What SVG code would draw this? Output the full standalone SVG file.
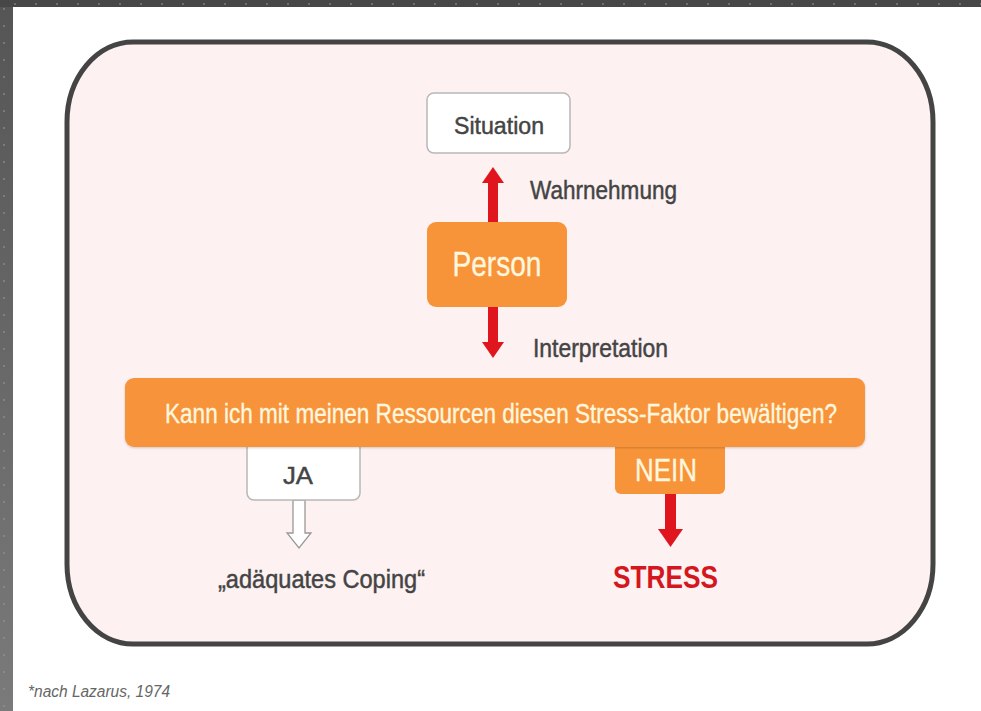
<svg xmlns="http://www.w3.org/2000/svg" width="981" height="711" viewBox="0 0 981 711">
  <defs>
    <linearGradient id="leftStrip" x1="0" y1="0" x2="0" y2="1">
      <stop offset="0" stop-color="#555"/>
      <stop offset="1" stop-color="#7a7a7a"/>
    </linearGradient>
    <pattern id="dotsV" x="0" y="0" width="13" height="17" patternUnits="userSpaceOnUse">
      <rect x="3" y="8" width="2" height="2" fill="#999" opacity="0.5"/>
    </pattern>
    <pattern id="dotsH" x="0" y="0" width="21" height="7" patternUnits="userSpaceOnUse">
      <rect x="14" y="3" width="2" height="2" fill="#888" opacity="0.6"/>
    </pattern>
    <filter id="soft" x="-5%" y="-10%" width="110%" height="130%">
      <feDropShadow dx="0" dy="1" stdDeviation="1.2" flood-color="#000" flood-opacity="0.18"/>
    </filter>
  </defs>
  <style>
    .lbl { font-family: "Liberation Sans", Arial, sans-serif; fill: #444; stroke: #444; stroke-width: 0.45; }
    .white-box { fill: #fff; stroke: #b8b8b8; stroke-width: 1.5; }
    .orange-box { fill: #f7943a; }
    .orange-text { font-family: "Liberation Sans", Arial, sans-serif; fill: #fff6de; stroke: #fff6de; stroke-width: 0.35; }
    .red { fill: #e0161e; }
  </style>

  <!-- background -->
  <rect x="0" y="0" width="981" height="711" fill="#fff"/>
  <rect x="0" y="0" width="13" height="711" fill="url(#leftStrip)"/>
  <rect x="0" y="0" width="13" height="711" fill="url(#dotsV)"/>
  <rect x="0" y="0" width="981" height="7" fill="#474747"/>
  <rect x="0" y="0" width="981" height="7" fill="url(#dotsH)"/>

  <!-- outer frame -->
  <g id="frame">
    <rect x="67" y="42" width="866" height="602" rx="66" ry="80" fill="#fdf1f1" stroke="#444" stroke-width="5"/>
  </g>

  <!-- connectors -->
  <g id="connectors">
    <!-- Person -> Situation (Wahrnehmung) -->
    <rect class="red" x="488" y="181" width="10" height="42"/>
    <path class="red" d="M482,183 L493,167 L504,183 Z"/>
    <!-- Person -> Question (Interpretation) -->
    <rect class="red" x="488" y="307" width="10" height="37"/>
    <path class="red" d="M482,342 L493,358 L504,342 Z"/>
    <!-- JA -> Coping (hollow arrow) -->
    <path d="M293,500 L305,500 L305,533 L311,533 L299,548 L287,533 L293,533 Z" fill="#fff" stroke="#999" stroke-width="1.3"/>
    <!-- NEIN -> STRESS -->
    <rect class="red" x="665" y="494" width="11" height="37"/>
    <path class="red" d="M658,529 L670.5,547 L683,529 Z"/>
  </g>

  <g id="situation">
    <rect class="white-box" x="427" y="93" width="143" height="60" rx="7"/>
    <text class="lbl" x="499" y="134" font-size="23" text-anchor="middle" textLength="90" lengthAdjust="spacingAndGlyphs">Situation</text>
  </g>

  <g id="label-wahrnehmung">
    <text class="lbl" x="530" y="199" font-size="25" textLength="147" lengthAdjust="spacingAndGlyphs">Wahrnehmung</text>
  </g>

  <g id="person">
    <rect class="orange-box" x="427" y="222" width="140" height="85" rx="9"/>
    <text class="orange-text" x="497" y="276" font-size="35" text-anchor="middle" textLength="89" lengthAdjust="spacingAndGlyphs">Person</text>
  </g>

  <g id="label-interpretation">
    <text class="lbl" x="533" y="357" font-size="25" textLength="135" lengthAdjust="spacingAndGlyphs">Interpretation</text>
  </g>

  <g id="ja">
    <rect class="white-box" x="247" y="430" width="113" height="70" rx="7"/>
    <text class="lbl" x="298" y="484" font-size="23" text-anchor="middle" textLength="30" lengthAdjust="spacingAndGlyphs">JA</text>
  </g>

  <g id="nein">
    <rect class="orange-box" x="615" y="430" width="110" height="64" rx="6"/>
    <text class="orange-text" x="666" y="481" font-size="31" text-anchor="middle" textLength="62" lengthAdjust="spacingAndGlyphs">NEIN</text>
  </g>

  <g id="question">
    <rect class="orange-box" x="125" y="378" width="740" height="69" rx="9" filter="url(#soft)"/>
    <text class="orange-text" x="165" y="423" font-size="27" textLength="672" lengthAdjust="spacingAndGlyphs">Kann ich mit meinen Ressourcen diesen Stress-Faktor bewältigen?</text>
  </g>

  <g id="coping">
    <text class="lbl" x="218" y="588" font-size="25" textLength="207" lengthAdjust="spacingAndGlyphs">„adäquates Coping“</text>
  </g>

  <g id="stress">
    <text x="613" y="588" font-family="'Liberation Sans', Arial, sans-serif" font-size="31" font-weight="bold" fill="#d4161f" textLength="105" lengthAdjust="spacingAndGlyphs">STRESS</text>
  </g>

  <g id="footnote">
    <text x="28" y="697" font-family="'Liberation Sans', Arial, sans-serif" font-size="16" font-style="italic" fill="#666" textLength="142" lengthAdjust="spacingAndGlyphs">*nach Lazarus, 1974</text>
  </g>
</svg>
